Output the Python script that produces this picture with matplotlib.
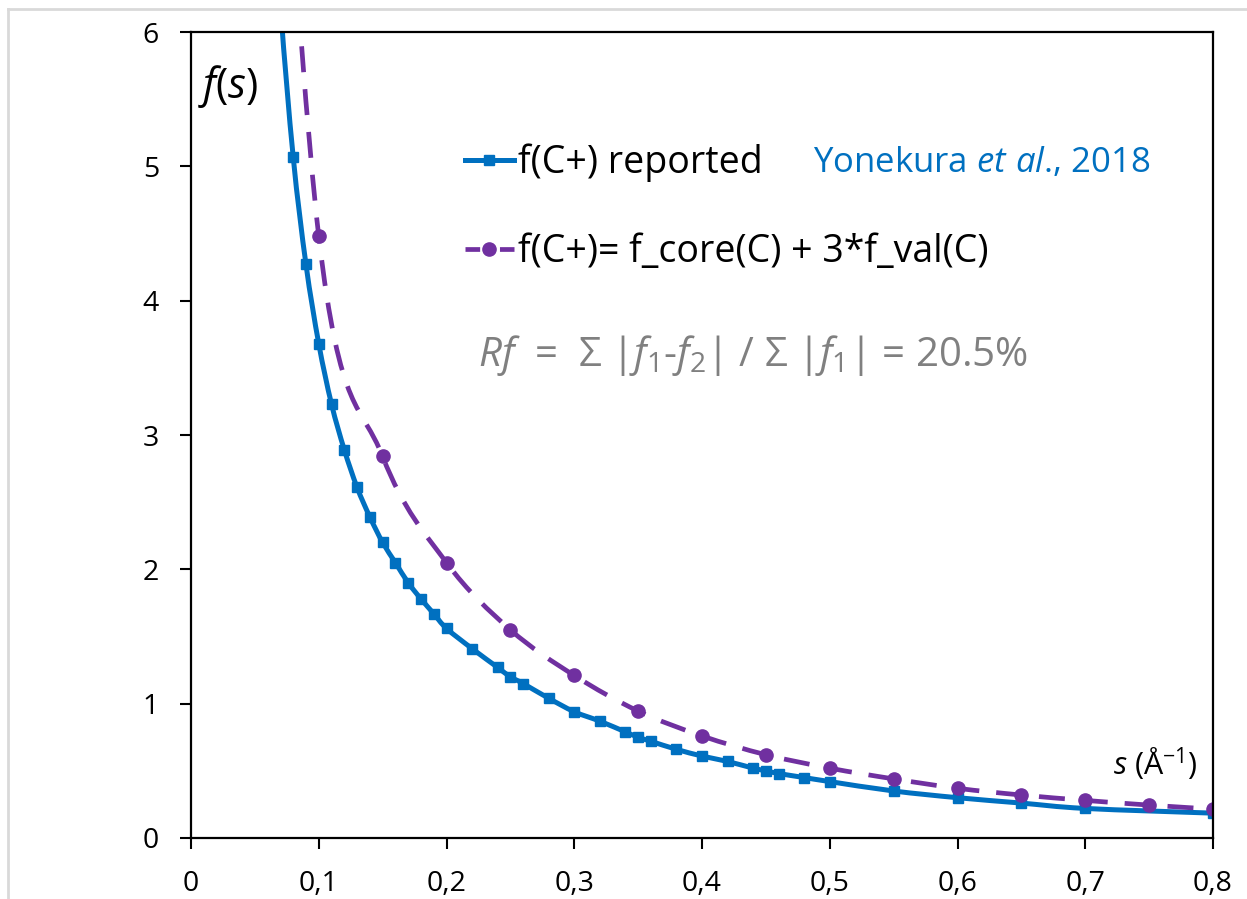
import numpy as np
import matplotlib
matplotlib.use('Agg')
import matplotlib.pyplot as plt
from matplotlib.path import Path
from matplotlib.patches import PathPatch
from matplotlib.lines import Line2D
from matplotlib.ticker import FuncFormatter, MultipleLocator

# --- data ---
s_reported = [0.06, 0.07, 0.08, 0.09, 0.10, 0.11, 0.12, 0.13, 0.14, 0.15,
              0.16, 0.17, 0.18, 0.19, 0.20, 0.22, 0.24, 0.25, 0.26, 0.28,
              0.30, 0.32, 0.34, 0.35, 0.36, 0.38, 0.40, 0.42, 0.44, 0.45,
              0.46, 0.48, 0.50, 0.55, 0.60, 0.65, 0.70, 0.80]
f_reported = [7.7, 6.2, 5.07, 4.27, 3.68, 3.23, 2.89, 2.61, 2.39, 2.20,
              2.05, 1.90, 1.78, 1.67, 1.56, 1.41, 1.27, 1.20, 1.15, 1.04,
              0.94, 0.87, 0.79, 0.75, 0.72, 0.66, 0.61, 0.57, 0.52, 0.50,
              0.48, 0.45, 0.42, 0.35, 0.30, 0.26, 0.22, 0.185]

s_model = [0.05, 0.10, 0.15, 0.20, 0.25, 0.30, 0.35, 0.40, 0.45, 0.50,
           0.55, 0.60, 0.65, 0.70, 0.75, 0.80]
f_model = [11.0, 4.48, 2.84, 2.05, 1.55, 1.21, 0.945, 0.76, 0.62, 0.52,
           0.44, 0.37, 0.32, 0.28, 0.245, 0.215]

label_reported = 'f(C+) reported'
label_model = 'f(C+)= f_core(C) + 3*f_val(C)'

BLUE = '#0070C0'
PURPLE = '#7030A0'
GRAY = '#808080'

plt.rcParams.update({
    'font.family': 'Open Sans',
    'mathtext.fontset': 'custom',
    'mathtext.rm': 'Open Sans',
    'mathtext.it': 'Open Sans:italic',
    'mathtext.bf': 'Open Sans:bold',
})


def smooth_path(x, y):
    """Excel-like smoothed line: cubic Bezier through the points."""
    p = np.column_stack([x, y]).astype(float)
    n = len(p)
    verts = [p[0]]
    codes = [Path.MOVETO]
    for i in range(n - 1):
        prev = p[i - 1] if i > 0 else p[i]
        nxt = p[i + 2] if i + 2 < n else p[i + 1]
        c1 = p[i] + (p[i + 1] - prev) / 6.0
        c2 = p[i + 1] - (nxt - p[i]) / 6.0
        verts += [c1, c2, p[i + 1]]
        codes += [Path.CURVE4] * 3
    return Path(verts, codes)


fig = plt.figure(figsize=(12.47, 8.99), dpi=100)
ax = fig.add_axes([191 / 1247, 1 - 838 / 899, (1213 - 191) / 1247, (838 - 32) / 899])

# smoothed lines
ax.add_patch(PathPatch(smooth_path(s_reported, f_reported), fill=False,
                       edgecolor=BLUE, lw=3.6, capstyle='butt'))
ax.add_patch(PathPatch(smooth_path(s_model, f_model), fill=False,
                       edgecolor=PURPLE, lw=3.4, linestyle=(0, (5.5, 3.6)),
                       capstyle='butt'))
# markers
ax.plot(s_reported, f_reported, ls='none', marker='s', ms=7.5, color=BLUE)
ax.plot(s_model, f_model, ls='none', marker='o', ms=9.5, color=PURPLE)

ax.set_xlim(0, 0.8)
ax.set_ylim(0, 6)
ax.xaxis.set_major_locator(MultipleLocator(0.1))
ax.yaxis.set_major_locator(MultipleLocator(1))
ax.xaxis.set_major_formatter(FuncFormatter(
    lambda v, p: '0' if abs(v) < 1e-9 else f'{v:.1f}'.replace('.', ',')))
ax.yaxis.set_major_formatter(FuncFormatter(lambda v, p: f'{v:.0f}'))
ax.tick_params(axis='both', direction='out', length=8, width=1.5,
               labelsize=20.5, colors='black')
ax.tick_params(axis='x', pad=15)
ax.tick_params(axis='y', pad=15)
for sp in ax.spines.values():
    sp.set_linewidth(1.6)
    sp.set_color('black')

# legend
handles = [
    Line2D([], [], color=BLUE, lw=3.6, marker='s', ms=7.5),
    Line2D([], [], color=PURPLE, lw=3.4, ls=(0, (3.1, 4.2, 3.1, 10)),
           marker='o', ms=9.5),
]
ax.legend(handles, [label_reported, label_model], loc='upper left',
          bbox_to_anchor=(0.268, 0.862), frameon=False, fontsize=27,
          handlelength=1.3, handletextpad=0.12, labelspacing=1.37,
          borderpad=0, borderaxespad=0)

ax.text(0.609, 0.838, r'Yonekura $et\ al$., 2018', transform=ax.transAxes,
        fontsize=25, color=BLUE, va='center', ha='left')
ax.text(0.281, 0.599,
        r'$Rf$  =  Σ |$f_1$-$f_2$| / Σ |$f_1$| = 20.5%',
        transform=ax.transAxes, fontsize=29, color=GRAY, va='center', ha='left')
ax.text(0.007, 0.932, r'$f$($s$)', transform=ax.transAxes, fontsize=30,
        va='center', ha='left')
ax.text(0.902, 0.092, r'$s$ (Å$^{\mathrm{-1}}$)', transform=ax.transAxes,
        fontsize=22, va='center', ha='left')

# chart-area border (light gray, top and left visible)
fig.add_artist(Line2D([8 / 1247, 8 / 1247], [0, 1 - 9 / 899],
                      transform=fig.transFigure, color='#d9d9d9', lw=2))
fig.add_artist(Line2D([8 / 1247, 1], [1 - 9 / 899, 1 - 9 / 899],
                      transform=fig.transFigure, color='#d9d9d9', lw=2))

fig.savefig('out.png', dpi=100)
